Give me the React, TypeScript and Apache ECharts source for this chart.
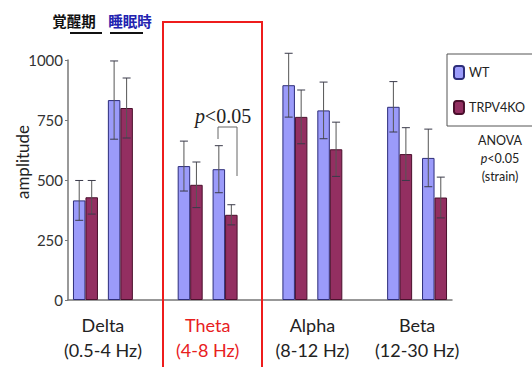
import React, { useEffect, useRef } from "react";
import * as echarts from "echarts";

// 11 slots: [wake, sleep, gap] per band
const slots = ["Delta-wake", "Delta-sleep", "", "Theta-wake", "Theta-sleep", "", "Alpha-wake", "Alpha-sleep", "", "Beta-wake", "Beta-sleep"];
const bandLabels = ["Delta\n(0.5-4 Hz)", "", "", "Theta\n(4-8 Hz)", "", "", "Alpha\n(8-12 Hz)", "", "", "Beta\n(12-30 Hz)", ""];
const wtMean = [415, 833, null, 558, 545, null, 895, 790, null, 805, 592];
const wtErr = [83, 163, null, 104, 98, null, 133, 118, null, 105, 120];
const koMean = [428, 800, null, 480, 355, null, 763, 628, null, 608, 427];
const koErr = [70, 125, null, 95, 42, null, 112, 113, null, 110, 85];
const yTicks = [0, 250, 500, 750, 1000];

const FONT = "Lato, 'Open Sans', sans-serif";
const WT_COLOR = "#9b9bfa";
const KO_COLOR = "#932f61";
const BAR_W = 12.5;

function errData(mean: (number | null)[], err: (number | null)[]) {
  const out: number[][] = [];
  mean.forEach((m, i) => {
    if (m != null && err[i] != null) out.push([i, m, err[i] as number]);
  });
  return out;
}

function makeErrSeries(name: string, data: number[][], offset: number) {
  return {
    type: "custom",
    name,
    z: 10,
    silent: true,
    data,
    encode: { x: 0, y: 1 },
    renderItem: (params: any, api: any) => {
      const x = api.value(0);
      const m = api.value(1);
      const e = api.value(2);
      const hi = api.coord([x, m + e]);
      const lo = api.coord([x, m - e]);
      const cx = hi[0] + offset;
      const cap = 4;
      const style = { stroke: "#3a3a4a", lineWidth: 1 };
      return {
        type: "group",
        children: [
          { type: "line", shape: { x1: cx, y1: hi[1], x2: cx, y2: lo[1] }, style: { stroke: "#555", lineWidth: 1 } },
          { type: "line", shape: { x1: cx - cap, y1: hi[1], x2: cx + cap, y2: hi[1] }, style },
          { type: "line", shape: { x1: cx - cap, y1: lo[1], x2: cx + cap, y2: lo[1] }, style },
        ],
      };
    },
  };
}

export default function App() {
  const ref = useRef<HTMLDivElement>(null);
  useEffect(() => {
    if (!ref.current) return;
    const chart = echarts.init(ref.current, null, { renderer: "svg" });
    const option: any = {
      animation: false,
      backgroundColor: "#ffffff",
      textStyle: { fontFamily: FONT },
      grid: { left: 68, right: 80, top: 60, bottom: 67, containLabel: false },
      legend: {
        orient: "vertical",
        left: 447,
        top: 54,
        itemWidth: 10,
        itemHeight: 13,
        itemGap: 20,
        padding: [11, 40, 11, 6],
        borderColor: "#555",
        borderWidth: 1,
        textStyle: { fontFamily: FONT, fontSize: 12.5, color: "#222" },
        data: ["WT", "TRPV4KO"],
      },
      xAxis: {
        type: "category",
        data: slots.map((s, i) => ({
          value: s,
          textStyle: i === 3 ? { color: "#e8201e" } : {},
        })),
        axisLine: { lineStyle: { color: "#777", width: 1.5 } },
        axisTick: { show: false },
        axisLabel: {
          interval: 0,
          formatter: (_v: string, i: number) => bandLabels[i],
          fontFamily: FONT,
          fontSize: 18,
          color: "#222",
          lineHeight: 25,
          margin: 12,
          align: "center",
          padding: [0, 0, 0, 35],
        },
      },
      yAxis: {
        type: "value",
        min: 0,
        max: 1000,
        interval: 250,
        axisLine: { show: true, lineStyle: { color: "#777", width: 1.5 } },
        axisTick: { show: true, inside: false, length: 3, lineStyle: { color: "#777" } },
        splitLine: { show: false },
        axisLabel: {
          fontFamily: FONT,
          fontSize: 15,
          color: "#333",
          margin: 5,
          formatter: (v: number) => (yTicks.includes(v) ? String(v) : ""),
        },
      },
      series: [
        {
          type: "bar",
          name: "WT",
          data: wtMean.map((v) => (v == null ? "-" : v)),
          barWidth: BAR_W,
          barGap: "0%",
          itemStyle: { color: WT_COLOR, borderColor: "#2d2d7a", borderWidth: 1 },
        },
        {
          type: "bar",
          name: "TRPV4KO",
          data: koMean.map((v) => (v == null ? "-" : v)),
          barWidth: BAR_W,
          barGap: "0%",
          itemStyle: { color: KO_COLOR, borderColor: "#4a0f2c", borderWidth: 1 },
        },
        makeErrSeries("WT err", errData(wtMean, wtErr), -BAR_W / 2),
        makeErrSeries("KO err", errData(koMean, koErr), BAR_W / 2),
      ],
      graphic: [
        // y axis title
        {
          type: "text",
          x: 22,
          y: 162,
          rotation: Math.PI / 2,
          style: { text: "amplitude", fontFamily: FONT, fontSize: 17, fill: "#222", align: "center", verticalAlign: "middle" },
        },
        // highlighted Theta band
        {
          type: "rect",
          shape: { x: 163, y: 22, width: 99, height: 360 },
          style: { fill: "none", stroke: "#ee1c1c", lineWidth: 2 },
          z: 20,
        },
        // wake / sleep headers
        {
          type: "text",
          x: 74,
          y: 20,
          style: { text: "覚醒期", fontFamily: "'Noto Sans CJK JP'", fontWeight: "bold", fontSize: 14.5, fill: "#111", align: "center", verticalAlign: "middle" },
        },
        {
          type: "text",
          x: 130,
          y: 20,
          style: { text: "睡眠時", fontFamily: "'Noto Sans CJK JP'", fontWeight: "bold", fontSize: 14.5, fill: "#2323b0", align: "center", verticalAlign: "middle" },
        },
        { type: "line", shape: { x1: 70, y1: 33, x2: 102, y2: 33 }, style: { stroke: "#111", lineWidth: 2 } },
        { type: "line", shape: { x1: 110, y1: 33, x2: 143, y2: 33 }, style: { stroke: "#111", lineWidth: 2 } },
        // significance bracket
        {
          type: "polyline",
          shape: { points: [[218, 139], [218, 127], [237, 127], [237, 176]] },
          style: { stroke: "#666", lineWidth: 1, fill: "none" },
        },
        {
          type: "text",
          x: 223,
          y: 116,
          style: {
            text: "{i|p}{n|<0.05}",
            align: "center",
            verticalAlign: "middle",
            rich: {
              i: { fontFamily: "'Liberation Serif', serif", fontStyle: "italic", fontSize: 20, fill: "#222" },
              n: { fontFamily: "'Liberation Serif', serif", fontSize: 20, fill: "#222" },
            },
          },
        },
        // ANOVA note
        {
          type: "text",
          x: 500,
          y: 158,
          style: {
            text: "ANOVA\n{i|p}<0.05\n(strain)",
            fontFamily: FONT,
            fontSize: 12.5,
            lineHeight: 18,
            fill: "#222",
            align: "center",
            verticalAlign: "middle",
            rich: { i: { fontFamily: FONT, fontStyle: "italic", fontSize: 12.5, fill: "#222" } },
          },
        },
      ],
    };
    chart.setOption(option);
    return () => chart.dispose();
  }, []);
  return <div ref={ref} style={{ position: "absolute", left: 0, top: 0, width: 532, height: 367 }} />;
}
